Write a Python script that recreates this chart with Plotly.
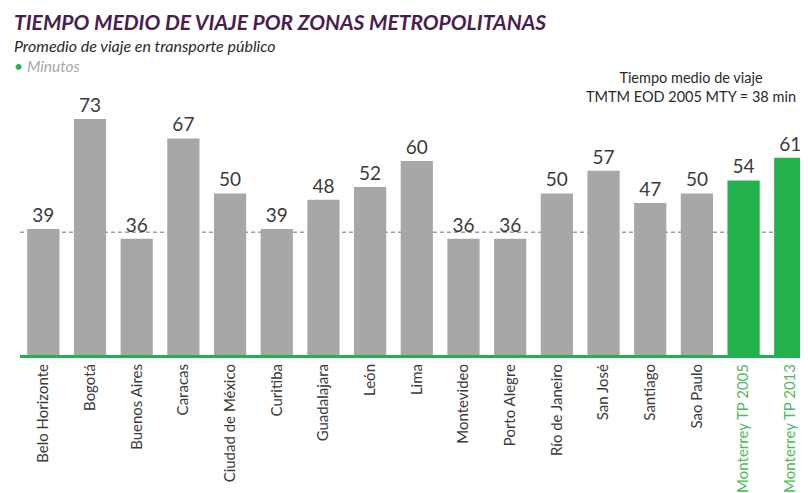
import plotly.graph_objects as go

categories = ["Belo Horizonte", "Bogotá", "Buenos Aires", "Caracas", "Ciudad de México",
              "Curitiba", "Guadalajara", "León", "Lima", "Montevideo", "Porto Alegre",
              "Río de Janeiro", "San José", "Santiago", "Sao Paulo",
              "Monterrey TP 2005", "Monterrey TP 2013"]
values = [39, 73, 36, 67, 50, 39, 48, 52, 60, 36, 36, 50, 57, 47, 50, 54, 61]
reference_value = 38
highlight = ["Monterrey TP 2005", "Monterrey TP 2013"]

GREY = "#A7A7AA"
GREEN = "#22B14C"
LABEL_GREEN = "#4CBB5A"

colors = [GREEN if c in highlight else GREY for c in categories]
ticktext = [f'<span style="color:{LABEL_GREEN}">{c}</span>' if c in highlight else c for c in categories]

fig = go.Figure()
fig.add_trace(go.Bar(
    x=list(range(len(categories))), y=values,
    marker=dict(color=colors, line=dict(width=0)),
    width=0.69,
    text=[str(v) for v in values], textposition="outside",
    textfont=dict(size=19, color="#3A3A3A", family="Lato, Open Sans, sans-serif"),
    cliponaxis=False,
))

fig.add_shape(type="line", xref="paper", x0=0, x1=1, yref="y", y0=reference_value, y1=reference_value,
              line=dict(color="#A0A0A0", width=1.5, dash="4px,3px"), layer="below")

X0 = -0.0102
fig.update_layout(
    width=800, height=485,
    margin=dict(l=12, r=0, t=92, b=138),
    paper_bgcolor="white", plot_bgcolor="white",
    showlegend=False,
    font=dict(family="Lato, Open Sans, sans-serif", color="#333333"),
    xaxis=dict(
        tickmode="array", tickvals=list(range(len(categories))), ticktext=ticktext,
        tickangle=-90, range=[-0.5, 16.38],
        tickfont=dict(size=15, color="#3A3A3A"),
        showline=True, linecolor=GREEN, linewidth=3, ticks="", showgrid=False,
        zeroline=False, automargin=False,
    ),
    yaxis=dict(range=[0, 78.9], visible=False, showgrid=False, zeroline=False),
    annotations=[
        dict(xref="paper", yref="paper", x=X0, y=1.0, xanchor="left", yanchor="middle",
             yshift=79, text="<b><i>TIEMPO MEDIO DE VIAJE POR ZONAS METROPOLITANAS</i></b>",
             showarrow=False, font=dict(size=21, color="#4A1D4F")),
        dict(xref="paper", yref="paper", x=X0, y=1.0, xanchor="left", yanchor="middle",
             yshift=55, text="<i>Promedio de viaje en transporte público</i>",
             showarrow=False, font=dict(size=16, color="#2A2A2A")),
        dict(xref="paper", yref="paper", x=X0, y=1.0, xanchor="left", yanchor="middle",
             yshift=34, text=f'<span style="color:{GREEN}">•</span> <i>Minutos</i>',
             showarrow=False, font=dict(size=15.5, color="#A8A8A8")),
        dict(xref="paper", yref="paper", x=0.8515, y=1.0, xanchor="center", yanchor="middle",
             yshift=13, text="Tiempo medio de viaje<br>TMTM EOD 2005 MTY = 38 min",
             showarrow=False, font=dict(size=14.5, color="#2A2A2A")),
    ],
)

fig.write_html("out.html")
